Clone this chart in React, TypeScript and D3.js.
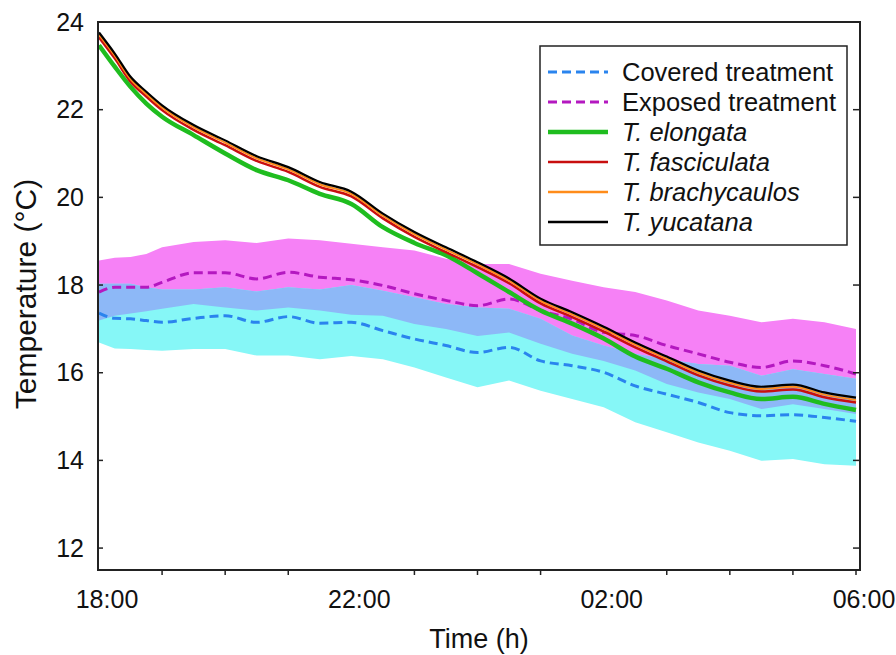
import React from "react";
import * as d3 from "d3";

const hours = [0, 0.25, 0.5, 0.75, 1, 1.5, 2, 2.5, 3, 3.5, 4, 4.5, 5, 5.5, 6, 6.5, 7, 7.5, 8, 8.5, 9, 9.5, 10, 10.5, 11, 11.5, 12];

const yucatana = [23.76, 23.28, 22.75, 22.41, 22.10, 21.65, 21.30, 20.94, 20.69, 20.35, 20.13, 19.63, 19.21, 18.86, 18.52, 18.15, 17.69, 17.38, 17.05, 16.69, 16.37, 16.05, 15.82, 15.68, 15.73, 15.55, 15.43];
const brachycaulos = [23.71, 23.23, 22.70, 22.36, 22.05, 21.60, 21.25, 20.89, 20.64, 20.30, 20.08, 19.58, 19.16, 18.81, 18.47, 18.10, 17.64, 17.33, 17.00, 16.64, 16.32, 16.00, 15.77, 15.63, 15.68, 15.50, 15.38];
const fasciculata = [23.65, 23.17, 22.64, 22.30, 21.99, 21.54, 21.19, 20.83, 20.58, 20.24, 20.02, 19.52, 19.10, 18.75, 18.41, 18.04, 17.58, 17.27, 16.94, 16.58, 16.26, 15.94, 15.71, 15.57, 15.62, 15.44, 15.32];
const elongata = [23.47, 22.98, 22.52, 22.14, 21.84, 21.42, 21.00, 20.62, 20.39, 20.08, 19.85, 19.32, 18.96, 18.68, 18.27, 17.84, 17.42, 17.12, 16.78, 16.37, 16.09, 15.78, 15.55, 15.40, 15.45, 15.29, 15.15];

const exposedMean = [17.84, 17.95, 17.95, 17.95, 18.06, 18.28, 18.28, 18.14, 18.29, 18.18, 18.12, 17.99, 17.80, 17.65, 17.53, 17.68, 17.42, 17.22, 16.92, 16.85, 16.62, 16.43, 16.24, 16.12, 16.27, 16.16, 15.97];
const exposedUpper = [18.56, 18.62, 18.64, 18.71, 18.86, 18.98, 19.02, 18.96, 19.06, 19.02, 18.94, 18.86, 18.79, 18.60, 18.48, 18.48, 18.26, 18.10, 17.95, 17.84, 17.65, 17.42, 17.30, 17.15, 17.23, 17.15, 17.00];
const exposedLower = [17.19, 17.30, 17.35, 17.40, 17.46, 17.57, 17.49, 17.42, 17.49, 17.42, 17.32, 17.30, 17.11, 17.00, 16.84, 16.92, 16.66, 16.43, 16.27, 16.05, 15.74, 15.55, 15.40, 15.17, 15.28, 15.17, 15.06];

const coveredMean = [17.36, 17.24, 17.23, 17.19, 17.15, 17.24, 17.30, 17.15, 17.28, 17.13, 17.15, 16.96, 16.77, 16.62, 16.46, 16.58, 16.27, 16.16, 16.01, 15.70, 15.51, 15.32, 15.09, 15.02, 15.04, 14.98, 14.89];
const coveredUpper = [18.03, 18.03, 18.03, 17.95, 17.90, 17.90, 17.95, 17.85, 17.95, 17.90, 18.00, 17.87, 17.72, 17.57, 17.49, 17.46, 17.23, 16.85, 16.62, 16.43, 16.31, 16.20, 16.16, 15.93, 16.08, 15.97, 15.86];
const coveredLower = [16.69, 16.55, 16.54, 16.52, 16.50, 16.54, 16.54, 16.39, 16.39, 16.31, 16.38, 16.31, 16.12, 15.89, 15.67, 15.82, 15.59, 15.40, 15.21, 14.87, 14.64, 14.41, 14.22, 13.99, 14.03, 13.91, 13.88];

const yTicks = [12, 14, 16, 18, 20, 22, 24];
const xLabelHours = [0, 4, 8, 12];
const xLabels = ["18:00", "22:00", "02:00", "06:00"];
const xMinorHours = [1, 2, 3, 5, 6, 7, 9, 10, 11, 12];

const FONT = "'Liberation Sans', Arial, sans-serif";

export default function App() {
  const left = 98, right = 860, top = 22, bottom = 570;
  const x = d3.scaleLinear().domain([0, 12]).range([99, 856]);
  const y = d3.scaleLinear().domain([11.5, 24]).range([bottom, top]);

  const idx = hours.map((_, i) => i);
  const line = (arr: number[]) =>
    d3.line<number>().x((i) => x(hours[i])).y((i) => y(arr[i])).curve(d3.curveMonotoneX)(idx) || "";
  const band = (lo: number[], hi: number[]) =>
    d3.area<number>().x((i) => x(hours[i])).y0((i) => y(lo[i])).y1((i) => y(hi[i]))(idx) || "";
  const overlapLo = idx.map((i) => Math.max(exposedLower[i], coveredLower[i]));
  const overlapHi = idx.map((i) => Math.min(exposedUpper[i], coveredUpper[i]));

  const legend = [
    { label: "Covered treatment", color: "#2a84ee", dash: "9,5", w: 3, italic: false },
    { label: "Exposed treatment", color: "#b418c0", dash: "9,5", w: 3, italic: false },
    { label: "T. elongata", color: "#1fbd1f", dash: "", w: 4.5, italic: true },
    { label: "T. fasciculata", color: "#c80f0f", dash: "", w: 2.5, italic: true },
    { label: "T. brachycaulos", color: "#ff8c1a", dash: "", w: 2.5, italic: true },
    { label: "T. yucatana", color: "#000000", dash: "", w: 2.5, italic: true },
  ];

  return (
    <svg width={896} height={655} style={{ position: "absolute", left: 0, top: 0, background: "#fff" }} fontFamily={FONT}>
      <rect x={0} y={0} width={896} height={655} fill="#fff" />
      {/* bands */}
      <path d={band(exposedLower, exposedUpper)} fill="#f681f6" />
      <path d={band(coveredLower, coveredUpper)} fill="#86f7f7" />
      <path d={band(overlapLo, overlapHi)} fill="#8db8f7" />
      {/* means */}
      <path d={line(coveredMean)} fill="none" stroke="#2a84ee" strokeWidth={3} strokeDasharray="9,5" />
      <path d={line(exposedMean)} fill="none" stroke="#b418c0" strokeWidth={3} strokeDasharray="9,5" />
      {/* species */}
      <path d={line(elongata)} fill="none" stroke="#1fbd1f" strokeWidth={4.5} strokeLinejoin="round" />
      <path d={line(fasciculata)} fill="none" stroke="#c80f0f" strokeWidth={2.5} strokeLinejoin="round" />
      <path d={line(brachycaulos)} fill="none" stroke="#ff8c1a" strokeWidth={2} strokeLinejoin="round" />
      <path d={line(yucatana)} fill="none" stroke="#000" strokeWidth={2.2} strokeLinejoin="round" />

      {/* frame */}
      <rect x={left} y={top} width={right - left} height={bottom - top} fill="none" stroke="#222" strokeWidth={2} />
      {yTicks.map((t) => (
        <g key={"y" + t}>
          <line x1={left} x2={left + 5} y1={y(t)} y2={y(t)} stroke="#222" strokeWidth={1.5} />
          <line x1={right - 7} x2={right} y1={y(t)} y2={y(t)} stroke="#222" strokeWidth={1.5} />
          <text x={84} y={y(t)} dy="0.35em" textAnchor="end" fontSize={25} fill="#111">{t}</text>
        </g>
      ))}
      {xMinorHours.map((h) => (
        <line key={"xm" + h} x1={x(h)} x2={x(h)} y1={bottom} y2={bottom + 5} stroke="#222" strokeWidth={1.5} />
      ))}
      {xLabelHours.map((h, i) => (
        <text key={"xl" + h} x={x(h) + 8} y={608} textAnchor="middle" fontSize={25} fill="#111">{xLabels[i]}</text>
      ))}
      <text x={479} y={648} textAnchor="middle" fontSize={27} fill="#111">Time (h)</text>
      <text transform={`translate(36,294) rotate(-90)`} textAnchor="middle" fontSize={30} fill="#111">Temperature (°C)</text>

      {/* legend */}
      <rect x={540} y={46} width={307} height={199} fill="#fff" stroke="#222" strokeWidth={1.5} />
      {legend.map((d, i) => {
        const ly = 72 + i * 30;
        return (
          <g key={d.label}>
            <line x1={548} x2={608} y1={ly} y2={ly} stroke={d.color} strokeWidth={d.w} strokeDasharray={d.dash || undefined} />
            <text x={622} y={ly} dy="0.35em" fontSize={25.5} fontStyle={d.italic ? "italic" : "normal"} fill="#111">{d.label}</text>
          </g>
        );
      })}
    </svg>
  );
}
